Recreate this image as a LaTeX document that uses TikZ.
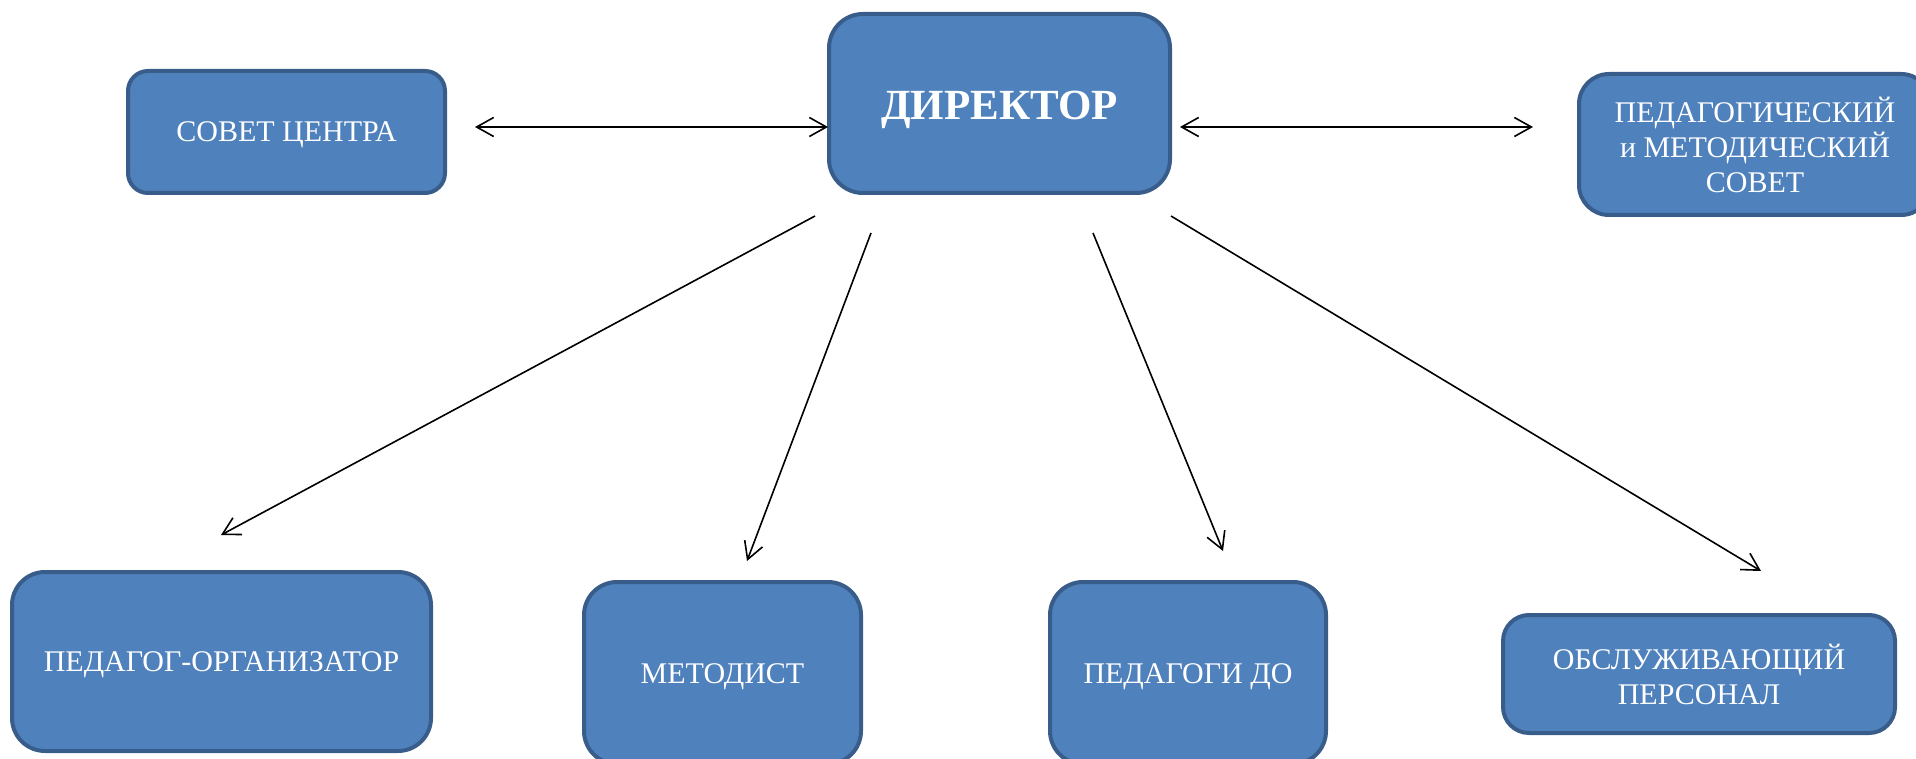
\documentclass[tikz,border=0pt]{standalone}
\usepackage{fontspec}
\setmainfont{Liberation Serif}
\usetikzlibrary{arrows.meta,calc}
\definecolor{boxfill}{HTML}{4F81BD}
\definecolor{boxline}{HTML}{385D8A}
\begin{document}
\begin{tikzpicture}[x=1pt,y=-1pt,
  box/.style={draw=boxline, fill=boxfill, line width=4pt, rounded corners=#1,
    text=white, align=center, inner sep=0pt,
    font=\fontsize{30}{35}\selectfont},
  box/.default=22pt,
  oneline/.style={text height=20pt, text depth=0pt},
  tipb/.tip={Straight Barb[length=17pt,width=19pt]},
  link/.style={line width=1.6pt, -tipb},
  dlink/.style={line width=1.6pt, tipb-tipb}]
\useasboundingbox (0,0) rectangle (1916,759);
\clip (0,0) rectangle (1916,759);

\node[box=34pt, minimum width=341pt, minimum height=179pt, text height=28pt, text depth=0pt,
  font=\bfseries\fontsize{43}{48}\selectfont] (dir) at (999.5,103.5) {\raisebox{-2.5pt}{ДИРЕКТОР}};
\node[box=20pt, oneline, minimum width=317pt, minimum height=122pt] (sovet) at (286.5,132) {СОВЕТ ЦЕНТРА};
\node[box=30pt, minimum width=352pt, minimum height=141pt] (pms) at (1755,144.5)
  {ПЕДАГОГИЧЕСКИЙ\\и МЕТОДИЧЕСКИЙ\\СОВЕТ};
\node[box=33pt, oneline, minimum width=419pt, minimum height=179pt] (org) at (221.5,661.5) {ПЕДАГОГ-ОРГАНИЗАТОР};
\node[box=33pt, oneline, minimum width=277pt, minimum height=182pt] (met) at (722.5,673) {МЕТОДИСТ};
\node[box=33pt, oneline, minimum width=276pt, minimum height=182pt] (pdo) at (1188,673) {ПЕДАГОГИ ДО};
\node[box=26pt, minimum width=392pt, minimum height=118pt] (obs) at (1699,674)
  {ОБСЛУЖИВАЮЩИЙ\\ПЕРСОНАЛ};

\draw[dlink] ($(sovet.east)+(28,-5)$) -- ($(dir.west |- sovet.east)+(1,-5)$);
\draw[dlink] ($(dir.east |- sovet.east)+(8,-5)$) -- ($(pms.west |- sovet.east)+(-44,-5)$);

\coordinate (s1) at (815,216);
\coordinate (e1) at (221,535);
\coordinate (s2) at (871,233);
\coordinate (e2) at (747,561);
\coordinate (s3) at (1093,233);
\coordinate (e3) at (1223,551);
\coordinate (s4) at (1171,216);
\coordinate (e4) at (1761,571);
\draw[link] (s1) -- (e1);
\draw[link] (s2) -- (e2);
\draw[link] (s3) -- (e3);
\draw[link] (s4) -- (e4);
\end{tikzpicture}
\end{document}
